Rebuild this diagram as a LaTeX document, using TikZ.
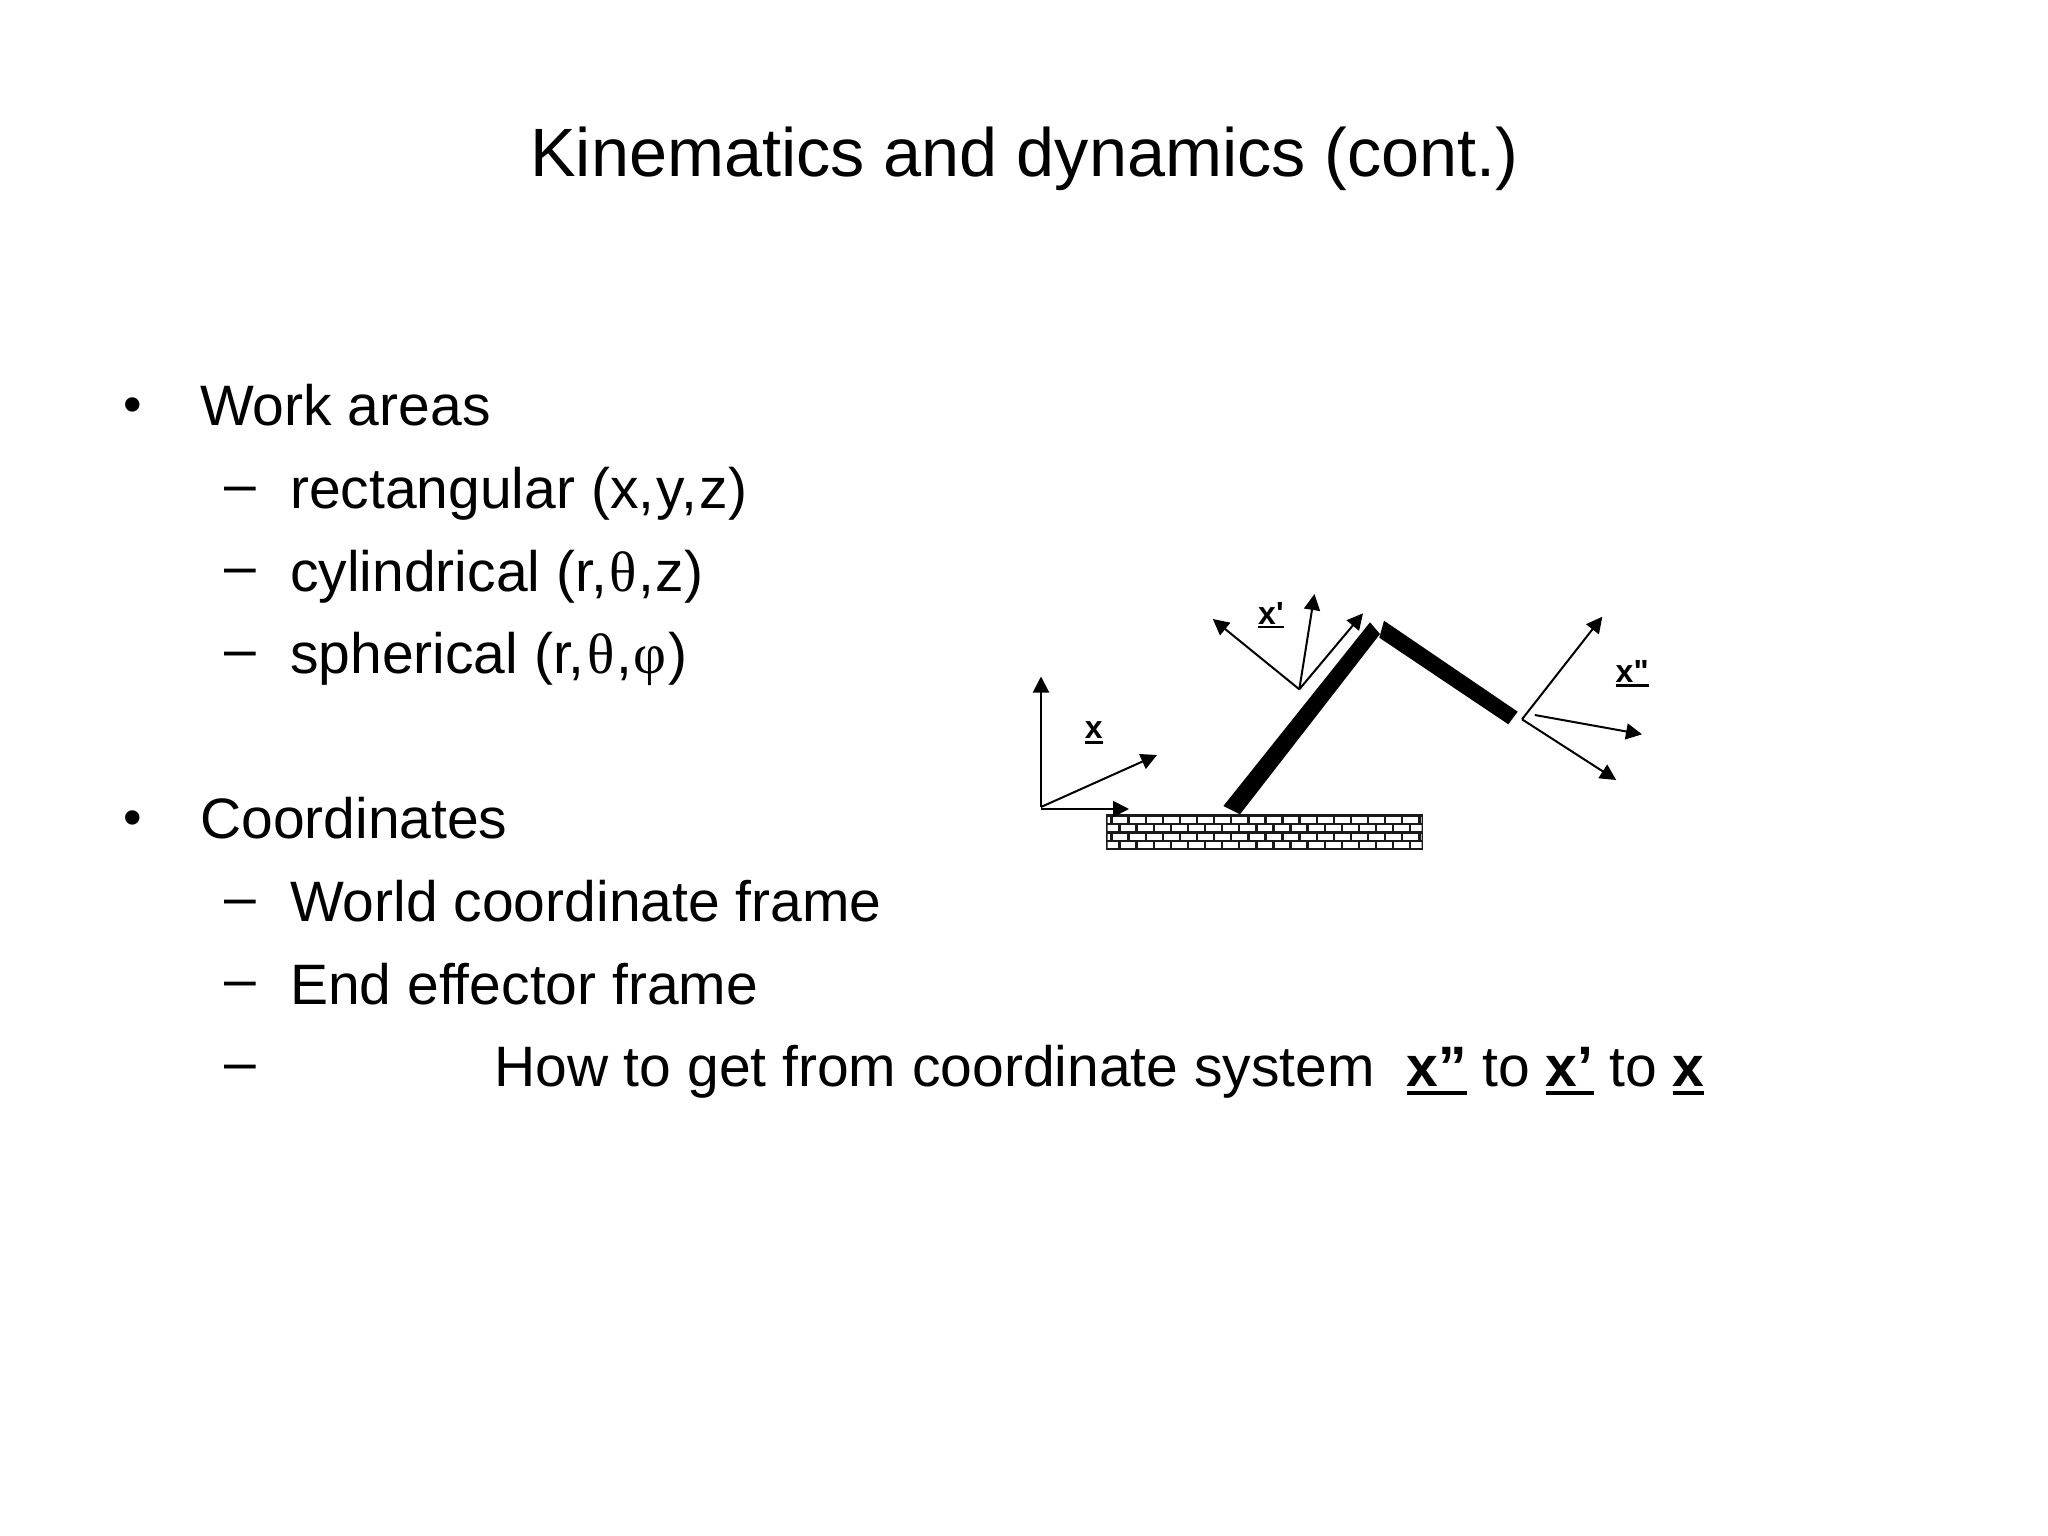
\documentclass[tikz,border=0pt]{standalone}
\usepackage{fontspec}
\setmainfont{Liberation Sans}
\newfontfamily\greekserif{Liberation Serif}
\newfontfamily\labelfont{Liberation Sans Bold}
\usetikzlibrary{arrows.meta}
\newsavebox{\ulbox}
\newcommand{\ulrule}[3]{\sbox{\ulbox}{#1}\rlap{\rule[-#2]{\wd\ulbox}{#3}}\usebox{\ulbox}}
\tikzset{
  titletext/.style={anchor=base,inner sep=0pt,font=\fontsize{68.4}{72}\selectfont},
  bodytext/.style={anchor=base west,inner sep=0pt,font=\fontsize{57}{60}\selectfont},
  marktext/.style={anchor=base west,inner sep=0pt,font=\fontsize{57}{60}\selectfont},
  bullettext/.style={anchor=base west,inner sep=0pt,font=\fontsize{53}{55}\selectfont},
  axislabel/.style={anchor=base west,inner sep=0pt,font=\fontsize{32}{34}\labelfont},
  axisarrow/.style={line width=2pt,-{Triangle[length=16pt,width=16pt]}},
  linkbar/.style={fill=black,draw=none}
}
\begin{document}
\begin{tikzpicture}[x=1pt,y=-1pt]
\useasboundingbox (0,0) rectangle (2048,1536);
\fill[white] (0,0) rectangle (2048,1536);
\node[titletext] (title) at (1024.5,176) {Kinematics and dynamics (cont.)};
% bullets
\node[bullettext] (b1) at (123,422.5) {•};
\node[bodytext] (t1) at (200,425.5) {Work areas};
\node[marktext] (d1) at (224.5,503) {–};
\node[bodytext] (t2) at (290,508) {rectangular (x,\kern2.5pt y,\kern2.5pt z)\kern0pt};
\node[marktext] (d2) at (224.5,585.5) {–};
\node[bodytext] (t3) at (290,591) {cylindrical (r,\kern2.5pt{\greekserif θ}\kern1.5pt,\kern1.5pt z)};
\node[marktext] (d3) at (224.5,668) {–};
\node[bodytext] (t4) at (290,673.5) {spherical (r,\kern2.5pt{\greekserif θ}\kern1.5pt,\kern2pt{\greekserif φ}\kern1.5pt)};
\node[bullettext] (b2) at (123,835.5) {•};
\node[bodytext] (t5) at (200,838.5) {Coordinates};
\node[marktext] (d4) at (224.5,916) {–};
\node[bodytext] (t6) at (290,921) {World coordinate frame};
\node[marktext] (d5) at (224.5,998.5) {–};
\node[bodytext] (t7) at (290,1004) {End effector frame};
\node[marktext] (d6) at (224.5,1081) {–};
\node[bodytext] (t8) at (494,1086.5) {How to get from coordinate system~~\ulrule{\textbf{x”}}{8pt}{3.2pt} to \ulrule{\textbf{x’}}{8pt}{3.2pt} to \ulrule{\textbf{x}}{8pt}{3.2pt}};
% wall
\fill[black!90] (1106,814) rectangle (1423,849.5);
\begin{scope}
\clip (1107.5,816) rectangle (1421.5,848);
\foreach \i in {0,...,19}{
  \fill[white] ({1095.6+17.1*\i},816.7) rectangle ++(14.7,6);
  \fill[white] ({1103.6+17.1*\i},825) rectangle ++(14.7,6.3);
  \fill[white] ({1095.6+17.1*\i},834) rectangle ++(14.7,6);
  \fill[white] ({1103.6+17.1*\i},842.3) rectangle ++(14.7,5.7);
}
\end{scope}
% links
\fill[linkbar] (1223.4,806) -- (1240,814.3) -- (1380,634) -- (1370,622.3) -- cycle;
\fill[linkbar] (1384,620.7) -- (1379.3,637.7) -- (1508.3,724.3) -- (1517.7,711.7) -- cycle;
% frame x
\coordinate (o0) at (1041,807);
\coordinate (o0r) at (1041,809);
\coordinate (a0) at (1041,676.5);
\coordinate (b0) at (1157,755);
\coordinate (c0) at (1129,809);
\draw[axisarrow] (o0) -- (a0);
\draw[axisarrow] (o0) -- (b0);
\draw[axisarrow] (o0r) -- (c0);
\node[axislabel] (lx) at (1084.7,738.5) {\ulrule{x}{5pt}{2.2pt}};
% frame x'
\coordinate (o1) at (1299.3,689.3);
\coordinate (a1) at (1212.8,619);
\coordinate (b1e) at (1314.5,594);
\coordinate (c1) at (1363,613.3);
\draw[axisarrow] (o1) -- (a1);
\draw[axisarrow] (o1) -- (b1e);
\draw[axisarrow] (o1) -- (c1);
\node[axislabel] (lx1) at (1258,624) {\ulrule{x'}{4pt}{2.2pt}};
% frame x''
\coordinate (o2) at (1522,719.3);
\coordinate (a2) at (1602.3,616.7);
\coordinate (c2) at (1616.2,780);
\coordinate (o2b) at (1534.8,715);
\coordinate (b2e) at (1642,734.3);
\draw[axisarrow] (o2) -- (a2);
\draw[axisarrow] (o2) -- (c2);
\draw[axisarrow] (o2b) -- (b2e);
\node[axislabel] (lx2) at (1615.5,682.5) {\ulrule{x"}{4pt}{2.2pt}};
\end{tikzpicture}
\end{document}
